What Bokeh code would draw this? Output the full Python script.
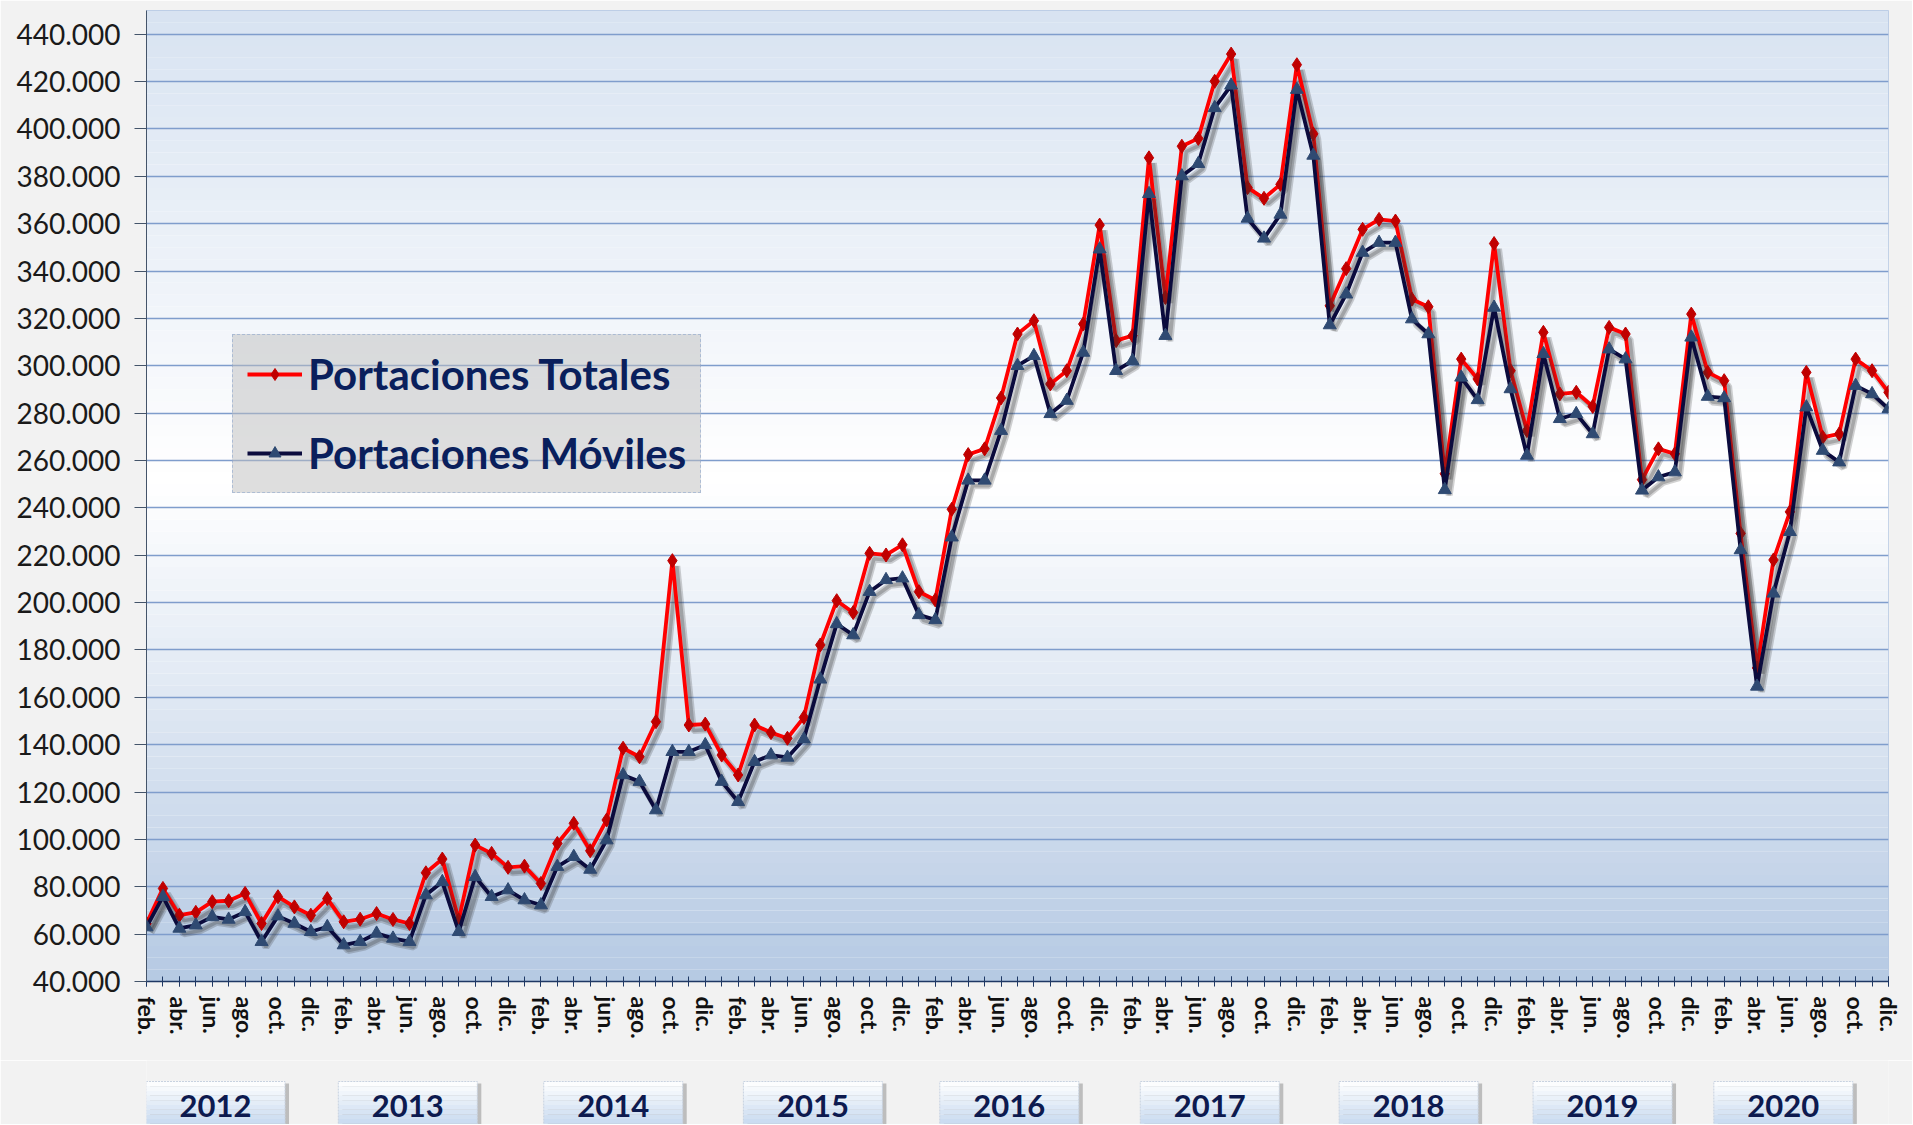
import numpy as np
from bokeh.plotting import figure
from bokeh.models import (Range1d, FixedTicker, CustomJSTickFormatter, BoxAnnotation,
                          Legend, LegendItem, ColumnDataSource)
from bokeh.transform import dodge
from bokeh.layouts import column
from bokeh.embed import file_html
from bokeh.resources import INLINE
from bokeh.core.properties import value

# ---------------- data ----------------
MESES = ["ene.", "feb.", "mar.", "abr.", "may.", "jun.", "jul.", "ago.", "sep.", "oct.", "nov.", "dic."]
ANIOS = [2012, 2013, 2014, 2015, 2016, 2017, 2018, 2019, 2020]

# months from feb 2012 to dic 2020
periodos = [(a, m) for a in ANIOS for m in range(12) if not (a == 2012 and m == 0)]

portaciones_totales = [
    64500, 79300, 68000, 69200, 73700, 74100, 77200, 64500, 75800, 71500, 68000,
    75000, 65200, 66300, 68700, 66200, 64500, 85900, 91700, 66000, 97600, 94100, 88200,
    88700, 81400, 98300, 106800, 95200, 108200, 138500, 134900, 149700, 217700, 148300, 148700,
    135600, 127200, 148300, 145100, 142700, 151500, 182100, 200800, 195800, 220800, 220100, 224400,
    204600, 201100, 239400, 262500, 264900, 286400, 313400, 319000, 292300, 297900, 317600, 359400,
    310600, 312700, 387800, 328800, 392700, 396000, 420100, 431600, 375200, 370700, 376600, 427100,
    397900, 325300, 341000, 357600, 361800, 361100, 328100, 324900, 254400, 302800, 294400, 351600,
    297900, 272600, 314100, 288100, 288800, 282800, 316200, 313400, 251900, 264900, 262800, 321800,
    297200, 293700, 229200, 172400, 218000, 238300, 297200, 269800, 271200, 302800, 297900, 288800,
]

portaciones_moviles = [
    63000, 75800, 62400, 63800, 67300, 66200, 69400, 56800, 67600, 64500, 61000,
    63100, 55400, 56800, 60300, 58200, 56800, 76500, 82100, 61000, 84200, 75800, 78600,
    74400, 72300, 88500, 92700, 87300, 99700, 127200, 124400, 112400, 137000, 137000, 139900,
    124400, 115900, 132800, 135600, 134600, 142300, 167600, 191000, 186300, 204600, 209600, 210300,
    194800, 192700, 227600, 251600, 251600, 272600, 300000, 304200, 279700, 285300, 305600, 349200,
    297900, 302100, 372600, 312700, 380100, 385300, 408900, 418400, 362200, 353800, 363900, 416600,
    388800, 317200, 330200, 347800, 352000, 352000, 319700, 313400, 247600, 295100, 285600, 324600,
    290200, 262100, 305000, 277600, 279700, 271200, 307000, 302800, 247400, 253000, 255100, 312000,
    287000, 286400, 222200, 164600, 203900, 229900, 282500, 264200, 259300, 291600, 288100, 281800,
]

Y_TICKS = list(range(40000, 440001, 20000))

# ---------------- layout constants ----------------
FW, FH = 1742, 971
BL, BR, BT, BB = 146, 24, 10, 79
STRIP_H = 64
BG = "#f2f2f2"
NAVY_TXT = "#0a1f5c"

n = len(periodos)
xs = list(range(n))
ppm = FW / (n - 1)  # pixels per month

src = ColumnDataSource(dict(x=xs, tot=portaciones_totales, mov=portaciones_moviles))

xr = Range1d(0, n - 1)
p = figure(frame_width=FW, frame_height=FH,
           min_border_left=BL, min_border_right=BR, min_border_top=BT, min_border_bottom=BB,
           x_range=xr, y_range=Range1d(40000, 450000),
           output_backend="svg", toolbar_location=None,
           background_fill_color="#ffffff", border_fill_color=BG)
p.outline_line_color = "#b4c7e2"

# background gradient of the plot area
def lerp(c1, c2, t):
    a = np.array([int(c1[i:i + 2], 16) for i in (1, 3, 5)], float)
    b = np.array([int(c2[i:i + 2], 16) for i in (1, 3, 5)], float)
    c = a + (b - a) * t
    return "#%02x%02x%02x" % tuple(int(round(v)) for v in c)

stops = [(40000, "#b5c9e3"), (250000, "#ffffff"), (450000, "#d8e3f1")]
step = 5000
for lo in range(40000, 450000, step):
    mid = lo + step / 2
    for (y0, c0), (y1, c1) in zip(stops[:-1], stops[1:]):
        if y0 <= mid <= y1:
            col = lerp(c0, c1, (mid - y0) / (y1 - y0))
            break
    p.add_layout(BoxAnnotation(bottom=lo, top=lo + step, fill_color=col, fill_alpha=1.0,
                               line_color=None, level="image"))

# grid
p.xgrid.grid_line_color = None
p.ygrid.ticker = FixedTicker(ticks=Y_TICKS)
p.ygrid.grid_line_color = "#7f9dcc"
p.ygrid.grid_line_width = 1.3

# y axis
p.yaxis.ticker = FixedTicker(ticks=Y_TICKS)
p.yaxis.formatter = CustomJSTickFormatter(
    code="return Math.round(tick).toString().replace(/\\B(?=(\\d{3})+(?!\\d))/g, '.');")
p.yaxis.major_label_text_font = "Lato"
p.yaxis.major_label_text_font_size = "28px"
p.yaxis.major_label_text_color = "#1a1a1a"
p.yaxis.major_tick_out = 12
p.yaxis.major_tick_in = 0
p.yaxis.minor_tick_line_color = None
p.yaxis.major_tick_line_color = "#44546a"
p.yaxis.axis_line_color = "#44546a"
p.yaxis.major_label_standoff = 14

# x axis
major = [i for i, (a, m) in enumerate(periodos) if m % 2 == 1]
p.xaxis.ticker = FixedTicker(ticks=major, minor_ticks=xs)
p.xaxis.major_label_overrides = {i: MESES[periodos[i][1]] for i in major}
p.xaxis.major_label_orientation = "vertical"
p.xaxis.major_label_text_font = "Lato"
p.xaxis.major_label_text_font_style = "bold"
p.xaxis.major_label_text_font_size = "23px"
p.xaxis.major_label_text_color = "#111111"
p.xaxis.major_label_standoff = 10
p.xaxis.axis_line_color = "#1f3864"
p.xaxis.axis_line_width = 1.5
p.xaxis.major_tick_line_color = "#1f3864"
p.xaxis.minor_tick_line_color = "#1f3864"
p.xaxis.major_tick_in = 5
p.xaxis.major_tick_out = 5
p.xaxis.minor_tick_in = 5
p.xaxis.minor_tick_out = 5

# series (shadow, line, markers)
dx, dy = 0.27, -2300
RED, RED_MK = "#ff0000", "#c00000"
NAV, NAV_MK = "#0b0b3d", "#2f4a72"

p.line(x=dodge("x", dx), y=dodge("tot", dy), source=src, line_color="#303030",
       line_alpha=0.22, line_width=7)
p.line(x=dodge("x", dx), y=dodge("tot", dy), source=src, line_color="#303030",
       line_alpha=0.25, line_width=3.5)
r_line = p.line("x", "tot", source=src, line_color=RED, line_width=3.8)
r_mark = p.scatter("x", "tot", source=src, marker="diamond", size=14,
                   fill_color=RED_MK, line_color=RED_MK)

p.line(x=dodge("x", dx), y=dodge("mov", dy), source=src, line_color="#303030",
       line_alpha=0.22, line_width=7)
p.line(x=dodge("x", dx), y=dodge("mov", dy), source=src, line_color="#303030",
       line_alpha=0.25, line_width=3.5)
n_line = p.line("x", "mov", source=src, line_color=NAV, line_width=3.8)
n_mark = p.scatter("x", "mov", source=src, marker="triangle", size=13,
                   fill_color=NAV_MK, line_color=NAV_MK)

legend = Legend(items=[LegendItem(label="Portaciones Totales", renderers=[r_line, r_mark]),
                       LegendItem(label="Portaciones Móviles", renderers=[n_line, n_mark])],
                location=(86, 488))
legend.label_text_font = "Lato"
legend.label_text_font_style = "bold"
legend.label_text_font_size = "42px"
legend.label_text_color = NAVY_TXT
legend.background_fill_color = "#bdbdbd"
legend.background_fill_alpha = 0.5
legend.border_line_color = "#7f9dcc"
legend.border_line_dash = "dotted"
legend.border_line_width = 1.5
legend.glyph_width = 55
legend.glyph_height = 30
legend.label_standoff = 6
legend.padding = 14
legend.spacing = 29
legend.margin = 0
p.add_layout(legend)

# ---------------- year strip (same horizontal geometry as the chart) ----------------
p2 = figure(frame_width=FW, frame_height=STRIP_H,
            min_border_left=BL, min_border_right=BR, min_border_top=0, min_border_bottom=0,
            x_range=xr, y_range=Range1d(0, STRIP_H),
            x_axis_type=None, y_axis_type=None,
            output_backend="svg", toolbar_location=None,
            background_fill_color=BG, border_fill_color=BG)
p2.outline_line_color = None
p2.grid.visible = False

year_nudge = [-0.8, -0.6, -0.1, 0.05, 0.0, 0.2, 0.3, 0.1, -0.9]
centers = []
for k, a in enumerate(ANIOS):
    idx = [i for i, (aa, m) in enumerate(periodos) if aa == a]
    centers.append(float(np.mean(idx)) + year_nudge[k])
centers = np.array(centers)
half_w = 69.5 / ppm
box_top, box_bot = 43, -4

# shadow
p2.quad(left=centers - half_w + 4 / ppm, right=centers + half_w + 4 / ppm,
        top=box_top - 2, bottom=box_bot, fill_color="#9a9a9a", fill_alpha=0.6, line_color=None)
nb = 10
for j in range(nb):
    t0 = box_top - (box_top - box_bot) * j / nb
    t1 = box_top - (box_top - box_bot) * (j + 1) / nb
    p2.quad(left=centers - half_w, right=centers + half_w, top=t0, bottom=t1,
            fill_color=lerp("#ffffff", "#c2d6ee", (j + 0.5) / nb), line_color=None)
p2.quad(left=centers - half_w, right=centers + half_w, top=box_top, bottom=box_bot,
        fill_color=None, line_color="#c8d2e0", line_width=1, line_dash="2 1")
p2.text(x=centers, y=[19] * len(ANIOS), text=[str(a) for a in ANIOS],
        text_font=value("Lato"), text_font_style="bold", text_font_size="31px",
        text_color="#0d1a4f", text_align="center", text_baseline="middle")

layout = column(p, p2, spacing=0)
open("out.html", "w").write(file_html(layout, INLINE))
